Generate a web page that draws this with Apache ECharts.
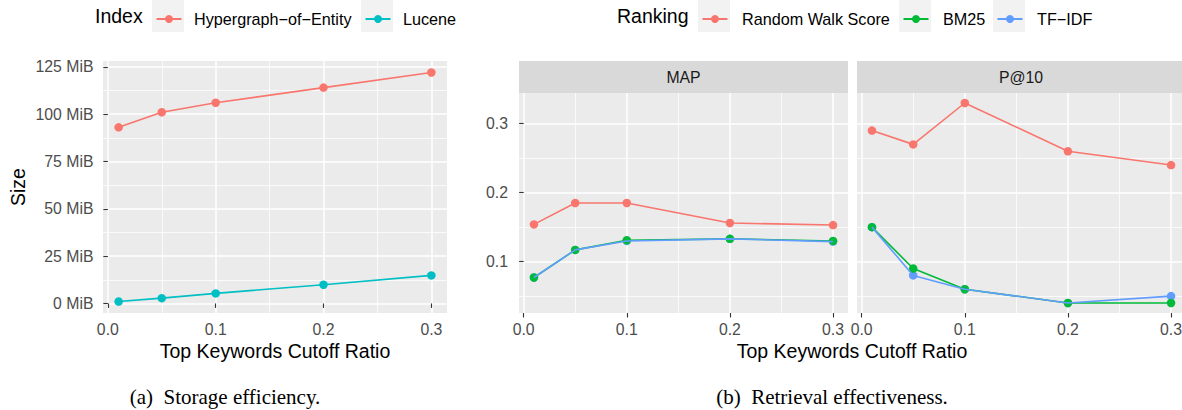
<!DOCTYPE html>
<html>
<head>
<meta charset="utf-8">
<script src="https://cdn.jsdelivr.net/npm/echarts@6/dist/echarts.min.js"></script>
<style>
html,body{margin:0;padding:0;background:#fff;}
#chart{width:1182px;height:410px;}
</style>
</head>
<body>
<div id="chart"></div>
<script>
// ---------- data ----------
const cutoffRatios = [0.01, 0.05, 0.1, 0.2, 0.3];

const sizeHypergraph = [93, 101, 106, 114, 122];
const sizeLucene = [1.0, 2.8, 5.3, 9.9, 14.8];

const mapRandomWalk = [0.154, 0.185, 0.185, 0.156, 0.153];
const mapBM25 = [0.077, 0.117, 0.131, 0.133, 0.130];
const mapTFIDF = [0.077, 0.117, 0.130, 0.133, 0.129];

const p10RandomWalk = [0.29, 0.27, 0.33, 0.26, 0.24];
const p10BM25 = [0.15, 0.09, 0.06, 0.04, 0.04];
const p10TFIDF = [0.15, 0.08, 0.06, 0.04, 0.05];

// ---------- tick labels ----------
const xTicks = [0, 0.1, 0.2, 0.3];
const xMinorTicks = [0.05, 0.15, 0.25];
const sizeTicks = [0, 25, 50, 75, 100, 125];
const sizeMinorTicks = [12.5, 37.5, 62.5, 87.5, 112.5];
const scoreTicks = [0.1, 0.2, 0.3];
const scoreMinorTicks = [0.05, 0.15, 0.25];

const indexNames = ['Hypergraph\u2212of\u2212Entity', 'Lucene'];
const rankingNames = ['Random Walk Score', 'BM25', 'TF\u2212IDF'];
const facetNames = ['MAP', 'P@10'];

// ---------- styling ----------
const FONT = '"Liberation Sans", Arial, Helvetica, sans-serif';
const SERIF = '"Liberation Serif", "Times New Roman", serif';
const C_RED = '#F8766D', C_CYAN = '#00BFC4', C_GREEN = '#00BA38', C_BLUE = '#619CFF';
const TICK_FS = 15.8, LEGEND_FS = 16.2, TITLE_FS = 19.5;

const chart = echarts.init(document.getElementById('chart'), null, {renderer: 'svg'});

function pairs(ys) { return cutoffRatios.map((x, i) => [x, ys[i]]); }

function majorAxis(gi, min, max, ticks, fmt, showLabels, margin, pos) {
  return {
    type: 'value', gridIndex: gi, min: min, max: max, position: pos,
    axisLine: {show: false},
    axisTick: {show: showLabels, length: 4.5, customValues: ticks,
               lineStyle: {color: '#333333', width: 1.1}},
    axisLabel: {show: showLabels, customValues: ticks, formatter: fmt,
                color: '#4D4D4D', fontSize: TICK_FS, fontFamily: FONT, margin: margin},
    splitLine: {show: true, lineStyle: {color: '#FFFFFF', width: 1.5}},
    minorTick: {show: false}, minorSplitLine: {show: false}
  };
}
function minorAxis(gi, min, max, ticks, pos) {
  return {
    type: 'value', gridIndex: gi, min: min, max: max, position: pos,
    axisLine: {show: false},
    axisTick: {show: false, customValues: ticks},
    axisLabel: {show: false, customValues: ticks},
    splitLine: {show: true, lineStyle: {color: '#FFFFFF', width: 0.75}}
  };
}

const fmtX = v => Number(v).toFixed(1);
const fmtSize = v => v + ' MiB';
const fmtScore = v => Number(v).toFixed(1);

const X_MIN = -0.0045, X_MAX = 0.3145;
const S_MIN = -5.05, S_MAX = 128.05;
const R_MIN = 0.0255, R_MAX = 0.3445;

const gridBase = {show: true, backgroundColor: '#EBEBEB', borderWidth: 0, containLabel: false, outerBoundsMode: 'none'};

function lineSeries(name, gi, ys, color, withSymbol) {
  return {
    type: 'line', name: name, xAxisIndex: gi * 2, yAxisIndex: gi * 2,
    data: pairs(ys),
    symbol: withSymbol ? 'circle' : 'none', symbolSize: 8.5, showSymbol: withSymbol,
    lineStyle: {color: color, width: 1.6}, itemStyle: {color: color},
    emphasis: {disabled: true}, silent: true
  };
}
function pointSeries(name, gi, ys, color) {
  return {
    type: 'scatter', name: name, xAxisIndex: gi * 2, yAxisIndex: gi * 2,
    data: pairs(ys), symbol: 'circle', symbolSize: 8.5,
    itemStyle: {color: color, opacity: 1}, emphasis: {disabled: true}, silent: true
  };
}

function legendItem(name, left, pad) {
  return {
    data: [name], left: left, top: 11, orient: 'horizontal',
    itemWidth: 25, itemHeight: 10, itemGap: 0, padding: 0, selectedMode: false,
    textStyle: {fontSize: LEGEND_FS, fontFamily: FONT, color: '#000000', padding: [0, 0, 0, pad]}
  };
}

function txt(text, x, y, size, color, font, extra) {
  return Object.assign({
    type: 'text', x: x, y: y, silent: true,
    style: {text: text, font: size + 'px ' + font, fill: color,
            textAlign: 'center', textVerticalAlign: 'middle', align: 'center', verticalAlign: 'middle'}
  }, extra || {});
}
function leftTxt(text, x, y, size) {
  return {type: 'text', x: x, y: y, silent: true,
    style: {text: text, font: size + 'px ' + FONT, fill: '#000000',
            textAlign: 'left', align: 'left', textVerticalAlign: 'middle', verticalAlign: 'middle'}};
}
function keyBox(x, y, w, h, fill) {
  return {type: 'rect', shape: {x: x, y: y, width: w, height: h}, style: {fill: fill}, z: -10, silent: true};
}

const option = {
  animation: false,
  backgroundColor: '#FFFFFF',
  grid: [
    Object.assign({left: 103, top: 61, width: 344, height: 252}, gridBase),
    Object.assign({left: 519, top: 93, width: 329, height: 220}, gridBase),
    Object.assign({left: 857, top: 93, width: 329, height: 220}, gridBase)
  ],
  xAxis: [
    majorAxis(0, X_MIN, X_MAX, xTicks, fmtX, true, 8.5, 'bottom'),
    minorAxis(0, X_MIN, X_MAX, xMinorTicks, 'bottom'),
    majorAxis(1, X_MIN, X_MAX, xTicks, fmtX, true, 8.5, 'bottom'),
    minorAxis(1, X_MIN, X_MAX, xMinorTicks, 'bottom'),
    majorAxis(2, X_MIN, X_MAX, xTicks, fmtX, true, 8.5, 'bottom'),
    minorAxis(2, X_MIN, X_MAX, xMinorTicks, 'bottom')
  ],
  yAxis: [
    majorAxis(0, S_MIN, S_MAX, sizeTicks, fmtSize, true, 9.5, 'left'),
    minorAxis(0, S_MIN, S_MAX, sizeMinorTicks, 'left'),
    majorAxis(1, R_MIN, R_MAX, scoreTicks, fmtScore, true, 11, 'left'),
    minorAxis(1, R_MIN, R_MAX, scoreMinorTicks, 'left'),
    majorAxis(2, R_MIN, R_MAX, scoreTicks, fmtScore, false, 11, 'left'),
    minorAxis(2, R_MIN, R_MAX, scoreMinorTicks, 'left')
  ],
  legend: [
    legendItem(indexNames[0], 155.5, 7.5),
    legendItem(indexNames[1], 364.5, 7.5),
    legendItem(rankingNames[0], 701.5, 9.5),
    legendItem(rankingNames[1], 902.5, 9.5),
    legendItem(rankingNames[2], 996.5, 9.5)
  ],
  series: [
    lineSeries(indexNames[0], 0, sizeHypergraph, C_RED, true),
    lineSeries(indexNames[1], 0, sizeLucene, C_CYAN, true),
    // lines first (blue drawn over green), then points (green drawn over blue)
    lineSeries(rankingNames[0], 1, mapRandomWalk, C_RED, false),
    lineSeries(rankingNames[1], 1, mapBM25, C_GREEN, false),
    lineSeries(rankingNames[2], 1, mapTFIDF, C_BLUE, false),
    lineSeries(rankingNames[0], 2, p10RandomWalk, C_RED, false),
    lineSeries(rankingNames[1], 2, p10BM25, C_GREEN, false),
    lineSeries(rankingNames[2], 2, p10TFIDF, C_BLUE, false),
    pointSeries(rankingNames[0], 1, mapRandomWalk, C_RED),
    pointSeries(rankingNames[2], 1, mapTFIDF, C_BLUE),
    pointSeries(rankingNames[1], 1, mapBM25, C_GREEN),
    pointSeries(rankingNames[0], 2, p10RandomWalk, C_RED),
    pointSeries(rankingNames[2], 2, p10TFIDF, C_BLUE),
    pointSeries(rankingNames[1], 2, p10BM25, C_GREEN)
  ],
  graphic: {
    elements: [
      // legend key backgrounds
      keyBox(152, 0, 32, 32, '#F2F2F2'),
      keyBox(361, 0, 32, 32, '#F2F2F2'),
      keyBox(698, 0, 32, 32, '#F2F2F2'),
      keyBox(899, 0, 32, 32, '#F2F2F2'),
      keyBox(993, 0, 32, 32, '#F2F2F2'),
      // legend titles
      leftTxt('Index', 95, 16, TITLE_FS),
      leftTxt('Ranking', 617, 16, TITLE_FS),
      // facet strips
      keyBox(519, 61, 329, 32, '#D9D9D9'),
      keyBox(857, 61, 329, 32, '#D9D9D9'),
      txt(facetNames[0], 683.5, 77, TICK_FS, '#1A1A1A', FONT),
      txt(facetNames[1], 1021, 77, TICK_FS, '#1A1A1A', FONT),
      // axis titles
      txt('Top Keywords Cutoff Ratio', 275, 351, TITLE_FS, '#000000', FONT),
      txt('Top Keywords Cutoff Ratio', 852, 351, TITLE_FS, '#000000', FONT),
      txt('Size', 18, 187, TITLE_FS, '#000000', FONT, {rotation: Math.PI / 2}),
      // captions
      txt('(a)  Storage efficiency.', 225, 397, 21, '#000000', SERIF),
      txt('(b)  Retrieval effectiveness.', 832, 397, 21, '#000000', SERIF)
    ]
  }
};

chart.setOption(option);
</script>
</body>
</html>
